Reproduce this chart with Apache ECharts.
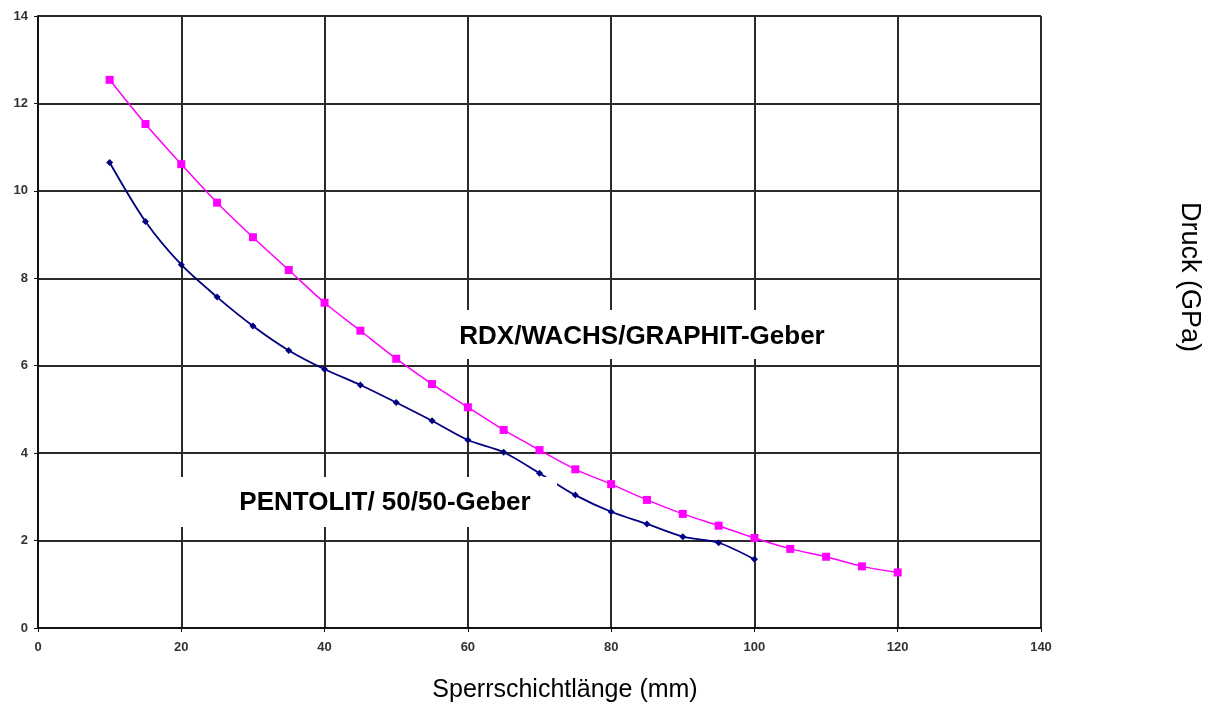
<!DOCTYPE html>
<html>
<head>
<meta charset="utf-8">
<script src="https://cdn.jsdelivr.net/npm/echarts@6/dist/echarts.min.js"></script>
<style>
  html, body { margin: 0; padding: 0; background: #fff; }
  #chart { width: 1205px; height: 709px; }
</style>
</head>
<body>
<div id="chart"></div>
<script>
// Sperrschichtlänge (mm)
const rdxX = [10, 15, 20, 25, 30, 35, 40, 45, 50, 55, 60, 65, 70, 75, 80, 85, 90, 95, 100, 105, 110, 115, 120]
const rdxY = [12.54, 11.53, 10.61, 9.73, 8.94, 8.19, 7.44, 6.8, 6.16, 5.58, 5.05, 4.53, 4.07, 3.63, 3.29, 2.93, 2.61, 2.34, 2.06, 1.81, 1.63, 1.41, 1.27]
const pentX = [10, 15, 20, 25, 30, 35, 40, 45, 50, 55, 60, 65, 70, 75, 80, 85, 90, 95, 100]
const pentY = [10.65, 9.3, 8.31, 7.57, 6.91, 6.35, 5.92, 5.56, 5.16, 4.74, 4.3, 4.02, 3.54, 3.04, 2.66, 2.38, 2.09, 1.95, 1.57]
const rdxLabel = 'RDX/WACHS/GRAPHIT-Geber'
const pentLabel = 'PENTOLIT/ 50/50-Geber'
const xTitle = 'Sperrschichtlänge (mm)'
const yTitle = 'Druck (GPa)'

const zip = (xs, ys) => xs.map((x, i) => [x, ys[i]])
const font = 'Liberation Sans, Arial, sans-serif'
const gridLine = { show: true, lineStyle: { color: '#2a2a2a', width: 2 } }
const tickLabel = { color: '#333', fontSize: 13, fontWeight: 'bold', fontFamily: font }

const myChart = echarts.init(document.getElementById('chart'))
const option = {
  animation: false,
  backgroundColor: '#fff',
  grid: { left: 38, right: 164, top: 16, bottom: 81, containLabel: false },
  xAxis: {
    type: 'value', min: 0, max: 140, interval: 20,
    axisLine: { show: true, onZero: false, lineStyle: { color: '#111', width: 2 } },
    axisTick: { show: true, length: 4, lineStyle: { color: '#111' } },
    axisLabel: { ...tickLabel, margin: 13 },
    splitLine: gridLine
  },
  yAxis: {
    type: 'value', min: 0, max: 14, interval: 2,
    axisLine: { show: true, lineStyle: { color: '#111', width: 2 } },
    axisTick: { show: true, length: 4, lineStyle: { color: '#111' } },
    axisLabel: { ...tickLabel, margin: 10 },
    splitLine: gridLine
  },
  series: [
    {
      type: 'line', name: rdxLabel, data: zip(rdxX, rdxY), smooth: 0.3,
      symbol: 'rect', symbolSize: 8,
      lineStyle: { color: '#ff00ff', width: 1.5 },
      itemStyle: { color: '#ff00ff' }, z: 3
    },
    {
      type: 'line', name: pentLabel, data: zip(pentX, pentY), smooth: 0.3,
      symbol: 'diamond', symbolSize: 7,
      lineStyle: { color: '#000080', width: 1.8 },
      itemStyle: { color: '#000080' }, z: 3
    }
  ],
  graphic: [
    { type: 'rect', z: 10, shape: { x: 440, y: 310, width: 402, height: 49 }, style: { fill: '#fff' } },
    { type: 'text', z: 11, x: 642, y: 337, style: { text: rdxLabel, font: 'bold 26px ' + font, fill: '#000', align: 'center', verticalAlign: 'middle' } },
    { type: 'rect', z: 10, shape: { x: 176, y: 477, width: 381, height: 50 }, style: { fill: '#fff' } },
    { type: 'text', z: 11, x: 385, y: 503, style: { text: pentLabel, font: 'bold 26px ' + font, fill: '#000', align: 'center', verticalAlign: 'middle' } },
    { type: 'text', x: 565, y: 690, style: { text: xTitle, font: '25px ' + font, fill: '#000', align: 'center', verticalAlign: 'middle' } },
    { type: 'text', x: 1189, y: 277, rotation: -Math.PI / 2, style: { text: yTitle, font: '27px ' + font, fill: '#000', align: 'center', verticalAlign: 'middle' } }
  ]
}
myChart.setOption(option)
window.addEventListener('resize', () => myChart.resize())
</script>
</body>
</html>
